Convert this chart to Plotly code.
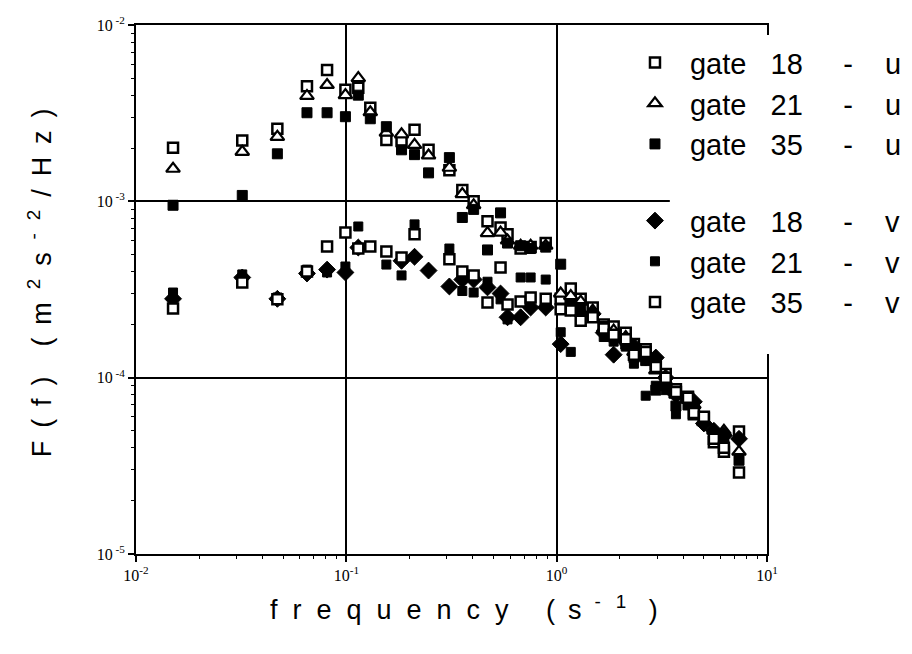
import plotly.graph_objects as go

# ---- data ----
freq = [0.015, 0.032, 0.047, 0.065, 0.081, 0.099, 0.114, 0.130, 0.155, 0.183,
        0.211, 0.246, 0.309, 0.356, 0.403, 0.469, 0.541, 0.584, 0.674, 0.752,
        0.887, 1.045, 1.167, 1.301, 1.484, 1.674, 1.866, 2.13, 2.33, 2.65,
        2.96, 3.30, 3.69, 4.21, 4.49, 5.01, 5.59, 6.24, 7.36]

gate18_u = [2.01e-3, 2.21e-3, 2.58e-3, 4.5e-3, 5.56e-3, 4.29e-3, 4.4e-3, 3.39e-3, 2.23e-3, 2.2e-3,
            2.55e-3, 1.96e-3, 1.5e-3, 1.16e-3, 1.0e-3, 7.7e-4, 7.1e-4, 6.5e-4, 5.4e-4, 5.5e-4,
            5.8e-4, 2.8e-4, 3.2e-4, 2.8e-4, 2.5e-4, 2.0e-4, 1.95e-4, 1.8e-4, 1.55e-4, 1.45e-4,
            1.2e-4, 1.05e-4, 8.6e-5, 7.8e-5, 6.2e-5, 5.9e-5, 4.3e-5, 3.8e-5, 4.95e-5]

gate21_u = [1.53e-3, 1.91e-3, 2.32e-3, 3.96e-3, 4.57e-3, 4.0e-3, 5.0e-3, 3.2e-3, 2.45e-3, 2.4e-3,
            2.09e-3, 1.82e-3, 1.55e-3, 1.1e-3, 9.5e-4, 6.6e-4, 6.65e-4, 6.0e-4, 5.6e-4, 5.6e-4,
            5.6e-4, 3.0e-4, 2.9e-4, 2.7e-4, 2.4e-4, 1.9e-4, 1.85e-4, 1.7e-4, 1.4e-4, 1.3e-4,
            1.1e-4, 9.5e-5, 8.0e-5, 7.5e-5, 7.0e-5, 5.6e-5, 5.0e-5, 5.0e-5, 3.8e-5]

gate35_u = [9.5e-4, 1.08e-3, 1.86e-3, 3.18e-3, 3.18e-3, 3.02e-3, 4.0e-3, 2.94e-3, 2.65e-3, 1.96e-3,
            1.84e-3, 1.45e-3, 1.77e-3, 8.1e-4, 9.0e-4, 5.3e-4, 8.6e-4, 5.8e-4, 5.6e-4, 5.4e-4,
            5.5e-4, 4.4e-4, 2.6e-4, 2.5e-4, 2.3e-4, 1.95e-4, 1.7e-4, 1.55e-4, 1.3e-4, 1.25e-4,
            8.5e-5, 9.0e-5, 6.9e-5, 7.0e-5, 6.5e-5, 5.8e-5, 4.8e-5, 4.5e-5, 3.4e-5]

gate18_v = [2.8e-4, 3.7e-4, 2.8e-4, 3.9e-4, 4.1e-4, 3.95e-4, 5.47e-4, None, None, 4.6e-4,
            4.85e-4, 4.05e-4, 3.29e-4, 3.6e-4, 3.6e-4, 3.25e-4, 3.0e-4, 2.2e-4, 2.2e-4, 2.5e-4,
            2.5e-4, 1.55e-4, 2.5e-4, 2.3e-4, 2.3e-4, 1.8e-4, 1.35e-4, 1.6e-4, 1.5e-4, 1.3e-4,
            1.3e-4, 1.0e-4, 8.0e-5, 7.5e-5, 7.3e-5, 5.5e-5, 5.0e-5, 4.7e-5, 4.5e-5]

gate21_v = [3.04e-4, 3.85e-4, 2.85e-4, 4.1e-4, 3.95e-4, 4.27e-4, 7.2e-4, None, 4.38e-4, 3.8e-4,
            7.4e-4, None, 5.4e-4, 3.1e-4, 3.04e-4, 3.5e-4, 2.78e-4, 2.14e-4, 3.7e-4, 3.7e-4,
            3.6e-4, 1.81e-4, 1.4e-4, 2.2e-4, 2.25e-4, 1.7e-4, 1.6e-4, 1.5e-4, 1.2e-4, 7.9e-5,
            9.0e-5, 8.5e-5, 6.2e-5, 7.2e-5, 6.8e-5, 5.7e-5, 4.6e-5, 4.3e-5, 3.5e-5]

gate35_v = [2.47e-4, 3.47e-4, 2.78e-4, 4.0e-4, 5.55e-4, 6.65e-4, 5.4e-4, 5.55e-4, 5.19e-4, 4.8e-4,
            6.5e-4, None, 4.7e-4, 4.0e-4, 3.8e-4, 2.67e-4, 4.22e-4, 2.6e-4, 2.7e-4, 2.85e-4,
            2.8e-4, 2.44e-4, 2.4e-4, 2.1e-4, 2.2e-4, 1.9e-4, 1.75e-4, 1.65e-4, 1.35e-4, 1.4e-4,
            1.15e-4, 1.0e-4, 8.3e-5, 7.7e-5, 6.3e-5, 6.0e-5, 4.5e-5, 4.0e-5, 2.9e-5]

x_tickvals = [0.01, 0.1, 1, 10]
x_ticktext = ["10<sup>-2</sup>", "10<sup>-1</sup>", "10<sup>0</sup>", "10<sup>1</sup>"]
y_tickvals = [1e-5, 1e-4, 1e-3, 1e-2]
y_ticktext = ["10<sup> -5</sup>", "10<sup> -4</sup>", "10<sup> -3</sup>", "10<sup> -2</sup>"]

NB = "\u00a0"
TH = "\u2009"
def leg(g, c):
    return f"gate{NB*3}{g}{NB*5}-{NB*4}{c}"

series = [
    (leg(18, "u"), gate18_u, dict(symbol="square", size=10, color="white", line=dict(color="black", width=2.5)), "u"),
    (leg(21, "u"), gate21_u, dict(symbol="triangle-up", size=12, color="white", line=dict(color="black", width=2.2)), "u"),
    (leg(35, "u"), gate35_u, dict(symbol="square", size=10, color="black", line=dict(color="black", width=1)), "u"),
    (leg(18, "v"), gate18_v, dict(symbol="diamond", size=13, color="black", line=dict(color="black", width=1)), "v"),
    (leg(21, "v"), gate21_v, dict(symbol="square", size=9, color="black", line=dict(color="black", width=1)), "v"),
    (leg(35, "v"), gate35_v, dict(symbol="square", size=10, color="white", line=dict(color="black", width=2.5)), "v"),
]

fig = go.Figure()
for name, vals, mk, grp in series:
    fig.add_trace(go.Scatter(x=freq, y=vals, mode="markers", name=name,
                             marker=mk, legendgroup=grp))
# empty helper trace so the minor-tick overlay axes are drawn
fig.add_trace(go.Scatter(x=[None], y=[None], xaxis="x2", yaxis="y2", mode="markers",
                         showlegend=False, hoverinfo="skip"))

def minor_vals(lo, hi):
    return [m * 10.0 ** e for e in range(lo, hi) for m in range(2, 10)]

axis_common = dict(
    type="log", tickmode="array",
    showline=True, linecolor="black", linewidth=2, mirror=True,
    showgrid=True, gridcolor="black", gridwidth=1.5,
    ticks="outside", ticklen=6, tickcolor="black", tickwidth=1.5,
    tickfont=dict(family="Liberation Serif", size=16, color="black"),
    zeroline=False,
)
minor_common = dict(type="log", tickmode="array", showticklabels=False, showgrid=False,
                    showline=False, zeroline=False, ticks="outside", ticklen=4,
                    tickcolor="black", tickwidth=1.2)

fig.update_layout(
    xaxis=dict(range=[-2, 1], tickvals=x_tickvals, ticktext=x_ticktext, **axis_common),
    yaxis=dict(range=[-5, -2], tickvals=y_tickvals, ticktext=y_ticktext, **axis_common),
    xaxis2=dict(overlaying="x", side="bottom", anchor="y", range=[-2, 1],
                tickvals=minor_vals(-2, 1), **minor_common),
    yaxis2=dict(overlaying="y", side="left", anchor="x", range=[-5, -2],
                tickvals=minor_vals(-5, -2), **minor_common),
)

# white patch hiding right frame / grid behind the legend (as in the original)
fig.add_shape(type="rect", xref="paper", yref="paper",
              x0=0.846, x1=1.03, y0=0.378, y1=0.981,
              fillcolor="white", line=dict(width=0), layer="above")

title_font = dict(family="Liberation Sans", size=27, color="black")
S2 = NB * 2
ST = NB + TH
xt = S2.join(list("frequency")) + NB * 5 + "(" + ST + "s" + ST + "<sup>-</sup>" + NB * 2 + "<sup>1</sup>" + NB * 3 + ")"
fig.add_annotation(
    text=xt, xref="paper", yref="paper", x=0.52, y=-0.102, showarrow=False,
    font=title_font, xanchor="center", yanchor="middle")
yt = ("F" + ST + "(" + ST + "f" + ST + ")" + NB * 4 + "(" + ST + "m" + ST + "<sup>2</sup>" + ST + "s"
      + ST + "<sup>-</sup>" + ST + "<sup>2</sup>" + ST + "/" + ST + "H" + ST + "z" + ST + ")")
fig.add_annotation(
    text=yt, xref="paper", yref="paper", x=-0.152, y=0.512, showarrow=False, textangle=-90,
    font=title_font, xanchor="center", yanchor="middle")

fig.update_layout(
    width=912, height=654,
    margin=dict(l=136, r=145, t=25, b=100, autoexpand=False),
    paper_bgcolor="white", plot_bgcolor="white",
    showlegend=True,
    legend=dict(x=0.767, y=0.977, xanchor="left", yanchor="top",
                bgcolor="rgba(0,0,0,0)", borderwidth=0,
                font=dict(family="Liberation Sans", size=29, color="black"),
                itemwidth=60, tracegroupgap=36, traceorder="grouped"),
)

fig.write_html("out.html")
